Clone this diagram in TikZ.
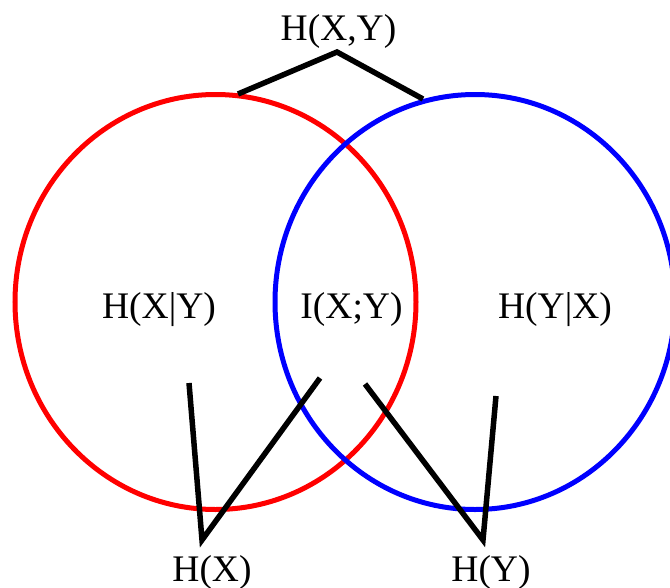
\documentclass[tikz,border=0pt]{standalone}
\usepackage{fontspec}
\setmainfont{Liberation Serif}
\begin{document}
\begin{tikzpicture}[x=1pt,y=-1pt,
  lbl/.style={inner sep=0pt,anchor=base,font=\fontsize{37.5}{44}\selectfont},
  setline/.style={line width=5pt},
  brace/.style={line width=5.5pt,black,line join=miter}]
\useasboundingbox (0,0) rectangle (670,587);
% circles
\draw[setline,red]  (215.5,302) ellipse [x radius=200.5, y radius=207.5];
\draw[setline,blue] (475,302) ellipse [x radius=200, y radius=207.5];
% labels
\node[lbl] (hxy)  at (338.5,40) {H(X,Y)};
\node[lbl] (hxgy) at (159,318) {H(X|Y)};
\node[lbl] (ixy)  at (351.5,318) {I(X;Y)};
\node[lbl] (hygx) at (555,318) {H(Y|X)};
\node[lbl] (hx)   at (212,581) {H(X)};
\node[lbl] (hy)   at (491,581) {H(Y)};
% connector points
\coordinate (topA) at (337,52);
\coordinate (topL) at (238,94);
\coordinate (topR) at (423,99);
\coordinate (xA) at (202,540);
\coordinate (xL) at (189,383);
\coordinate (xR) at (320,378);
\coordinate (yA) at (483,540);
\coordinate (yL) at (365,384);
\coordinate (yR) at (496,396);
\draw[brace] (topL) -- (topA) -- (topR);
\draw[brace] (xL) -- (xA) -- (xR);
\draw[brace] (yL) -- (yA) -- (yR);
\end{tikzpicture}
\end{document}
